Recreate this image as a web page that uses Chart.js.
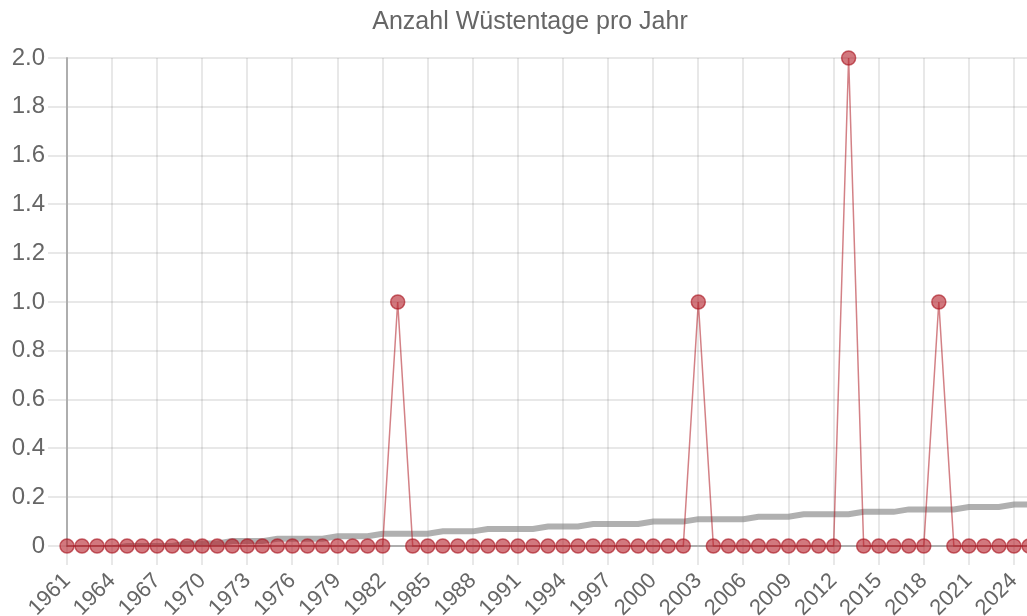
<!DOCTYPE html>
<html>
<head>
<meta charset="utf-8">
<script src="https://cdn.jsdelivr.net/npm/chart.js@4/dist/chart.umd.min.js"></script>
<style>
  html, body { margin: 0; padding: 0; background: #fff; overflow: hidden; }
  #wrap { width: 1060px; height: 616px; position: relative; }
</style>
</head>
<body>
<div id="wrap"><canvas id="desertChart"></canvas></div>
<script>
const years = [
  '1961', '1962', '1963', '1964', '1965', '1966', '1967', '1968', '1969', '1970',
  '1971', '1972', '1973', '1974', '1975', '1976', '1977', '1978', '1979', '1980',
  '1981', '1982', '1983', '1984', '1985', '1986', '1987', '1988', '1989', '1990',
  '1991', '1992', '1993', '1994', '1995', '1996', '1997', '1998', '1999', '2000',
  '2001', '2002', '2003', '2004', '2005', '2006', '2007', '2008', '2009', '2010',
  '2011', '2012', '2013', '2014', '2015', '2016', '2017', '2018', '2019', '2020',
  '2021', '2022', '2023', '2024', '2025'
];

// Wüstentage je Jahr
const desertDays = [
  0, 0, 0, 0, 0, 0, 0, 0, 0, 0,
  0, 0, 0, 0, 0, 0, 0, 0, 0, 0,
  0, 0, 1, 0, 0, 0, 0, 0, 0, 0,
  0, 0, 0, 0, 0, 0, 0, 0, 0, 0,
  0, 0, 1, 0, 0, 0, 0, 0, 0, 0,
  0, 0, 2, 0, 0, 0, 0, 0, 1, 0,
  0, 0, 0, 0, 0
];

// Trendlinie (grau)
const trend = [
  -0.02, -0.01, -0.01, -0.01, 0.00, 0.00, 0.00, 0.00, 0.01, 0.01,
  0.01, 0.02, 0.02, 0.02, 0.03, 0.03, 0.03, 0.03, 0.04, 0.04,
  0.04, 0.05, 0.05, 0.05, 0.05, 0.06, 0.06, 0.06, 0.07, 0.07,
  0.07, 0.07, 0.08, 0.08, 0.08, 0.09, 0.09, 0.09, 0.09, 0.10,
  0.10, 0.10, 0.11, 0.11, 0.11, 0.11, 0.12, 0.12, 0.12, 0.13,
  0.13, 0.13, 0.13, 0.14, 0.14, 0.14, 0.15, 0.15, 0.15, 0.15,
  0.16, 0.16, 0.16, 0.17, 0.17
];

const yTicks = { min: 0, max: 2, step: 0.2 };

const fontFamily = "'Helvetica Neue', Helvetica, Arial, 'Liberation Sans', sans-serif";
const textColor = '#666';
const gridColor = 'rgba(0,0,0,0.09)';

const ctx = document.getElementById('desertChart').getContext('2d');

new Chart(ctx, {
  type: 'line',
  data: {
    labels: years,
    datasets: [{
      label: 'Wüstentage',
      data: desertDays,
      clip: false,
      borderColor: 'rgba(175, 25, 35, 0.55)',
      borderWidth: 1.5,
      backgroundColor: 'rgba(175, 25, 35, 0.6)',
      pointBackgroundColor: 'rgba(180, 30, 40, 0.6)',
      pointBorderColor: 'rgba(170, 25, 35, 0.65)',
      pointBorderWidth: 1.5,
      pointRadius: 7,
      tension: 0,
      fill: false
    }, {
      label: 'Trend',
      data: trend,
      borderColor: 'rgba(128, 128, 128, 0.62)',
      borderWidth: 6,
      pointRadius: 0,
      tension: 0,
      fill: false
    }]
  },
  options: {
    responsive: true,
    maintainAspectRatio: false,
    animation: false,
    plugins: {
      legend: { display: false },
      tooltip: { enabled: false },
      title: {
        display: true,
        text: 'Anzahl Wüstentage pro Jahr',
        color: textColor,
        font: { family: fontFamily, size: 25, weight: 'normal' },
        padding: { top: 7, bottom: 21 }
      }
    },
    scales: {
      x: {
        grid: { color: gridColor, lineWidth: 2, tickLength: 19 },
        border: { color: 'rgba(0,0,0,0.25)', width: 2 },
        ticks: {
          autoSkip: false,
          minRotation: 45,
          maxRotation: 45,
          padding: 3,
          color: textColor,
          font: { family: fontFamily, size: 22 },
          callback: function (val, idx) {
            return idx % 3 === 0 ? years[idx] : null;
          }
        },
        afterFit: function (scale) {
          scale.height = 70;
          scale.paddingRight = 31;
        }
      },
      y: {
        min: yTicks.min,
        max: yTicks.max,
        grid: { color: gridColor, lineWidth: 2, tickLength: 19 },
        border: { color: 'rgba(0,0,0,0.25)', width: 2 },
        ticks: {
          stepSize: yTicks.step,
          padding: 3,
          color: textColor,
          font: { family: fontFamily, size: 24 },
          callback: function (v) {
            return v === 0 ? '0' : Number(v).toFixed(1);
          }
        },
        afterFit: function (scale) { scale.width = 67; }
      }
    }
  }
});
</script>
</body>
</html>
